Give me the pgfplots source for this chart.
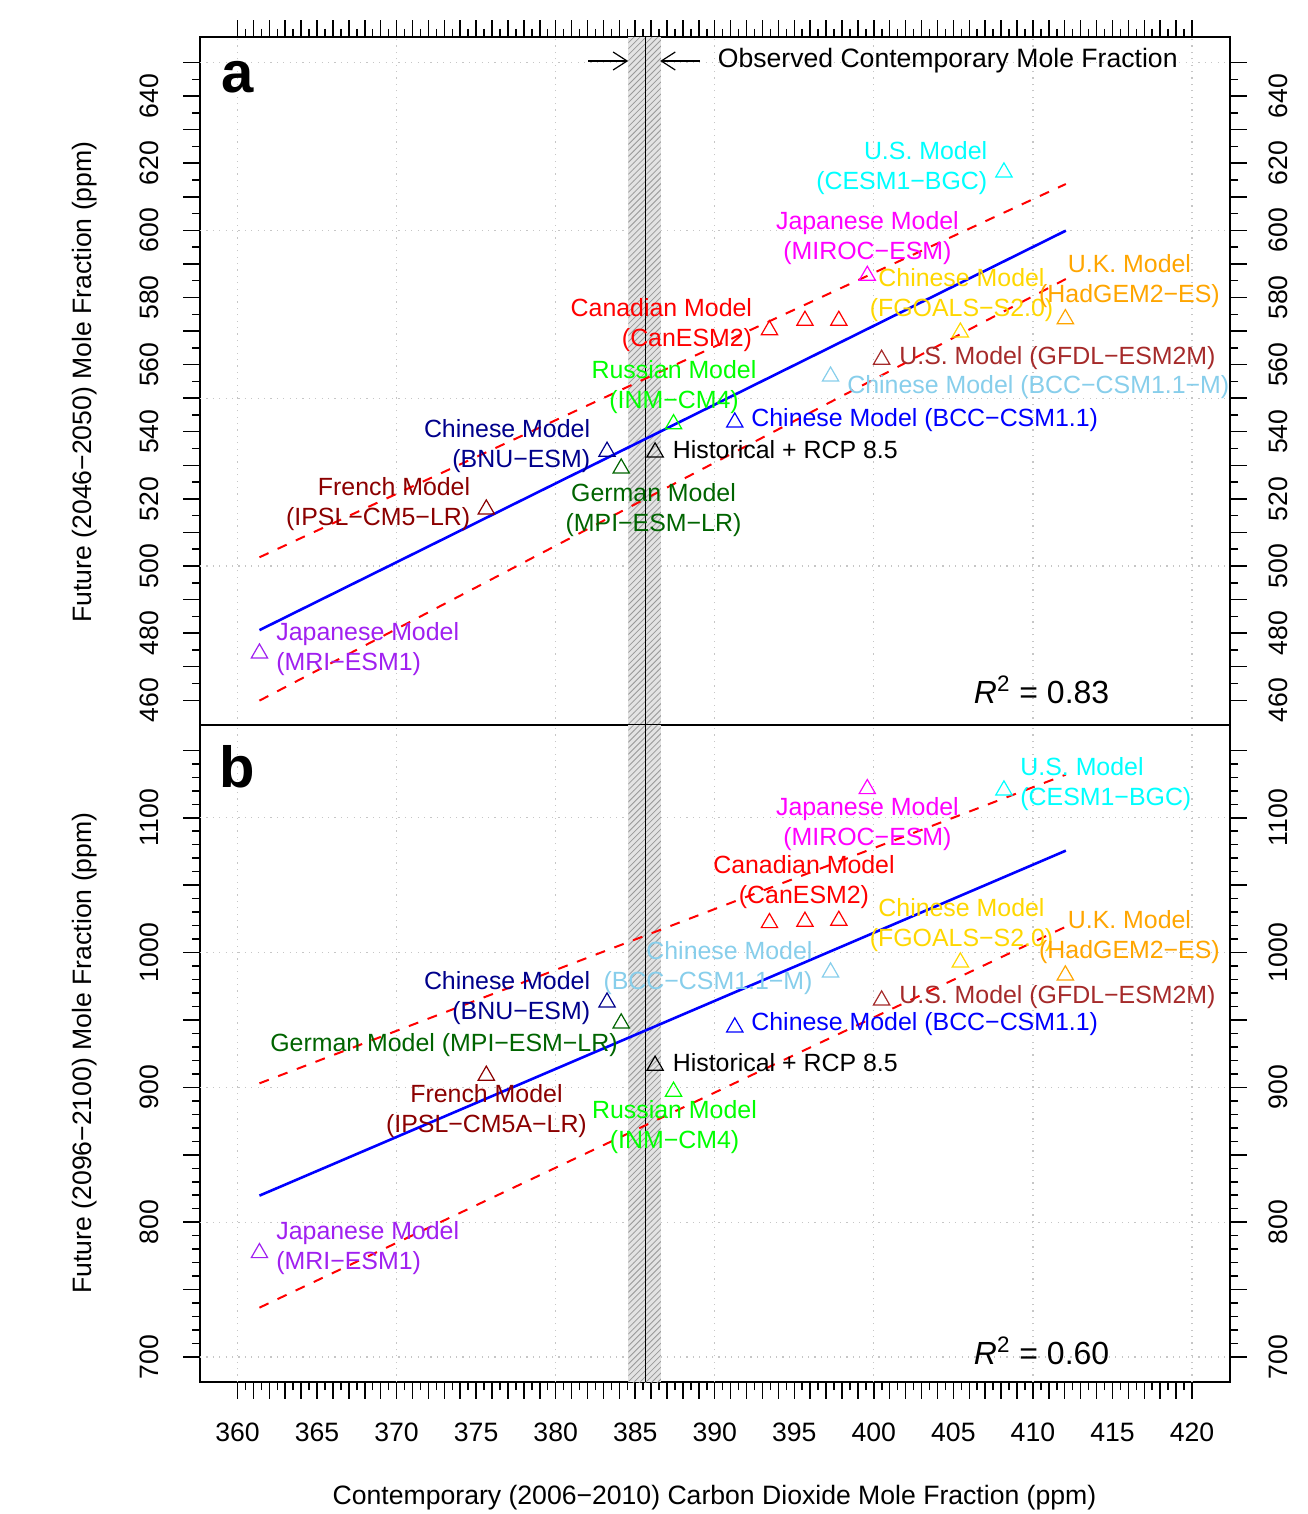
\documentclass[border=0pt]{standalone}
\usepackage{fontspec}
\setmainfont{Liberation Sans}
\usepackage{pgfplots}
\pgfplotsset{compat=1.18}
\usetikzlibrary{patterns,arrows.meta}

\definecolor{rcyan}{HTML}{00FFFF}
\definecolor{rmagenta}{HTML}{FF00FF}
\definecolor{rgold}{HTML}{FFD700}
\definecolor{rorange}{HTML}{FFA500}
\definecolor{rred}{HTML}{FF0000}
\definecolor{rbrown}{HTML}{A52A2A}
\definecolor{rskyblue}{HTML}{87CEEB}
\definecolor{rgreen}{HTML}{00FF00}
\definecolor{rblue}{HTML}{0000FF}
\definecolor{rnavy}{HTML}{00008B}
\definecolor{rdarkgreen}{HTML}{006400}
\definecolor{rdarkred}{HTML}{8B0000}
\definecolor{rpurple}{HTML}{A020F0}

\newcommand{\lbl}{\fontsize{13.3bp}{15bp}\selectfont}
\newcommand{\mlbl}{\fontsize{12.45bp}{15bp}\selectfont}
\newcommand{\rsq}{\fontsize{16bp}{18bp}\selectfont}
\newcommand{\pan}{\fontsize{29bp}{30bp}\selectfont\bfseries}

\tikzset{
  gridst/.style={gray!45, line width=0.6bp, dash pattern=on 0.6bp off 2.6bp},
  lab/.style={font=\mlbl, inner sep=0pt},
  ml/.style={font=\mlbl, inner sep=0pt, yshift=-1.3bp},
}

\pgfplotsset{
  rbase/.style={
    scale only axis, width=515bp,
    xmin=357.643, xmax=422.39,
    clip=false,
    axis line style={line width=0.75bp},
    every tick/.style={black, line width=0.75bp},
    tick align=outside,
    major tick length=8.3bp, minor tick length=4bp,
    xtick={360,361,...,420},
    minor xtick={360.5,361.5,...,419.5},
    ticklabel style={font=\lbl, inner sep=0pt},
    yticklabel pos=left,
    ytick pos=both,
    yticklabel style={rotate=90, anchor=south},
    yticklabel shift=12bp,
    /pgf/number format/assume math mode=true,
  },
  rright/.style={
    scale only axis, width=515bp,
    xmin=357.643, xmax=422.39,
    axis x line=none, axis y line*=right,
    y axis line style={draw=none},
    major tick length=0pt, minor tick length=0pt,
    yticklabel style={rotate=90, anchor=north, font=\lbl, inner sep=0pt},
    yticklabel shift=19bp,
    /pgf/number format/assume math mode=true,
  },
  dat/.style={only marks, mark=triangle, mark size=4.7bp, mark options={solid, line width=0.6bp}, color=#1},
  regl/.style={rblue, line width=1.3bp, no marks},
  ci/.style={rred, line width=1bp, dash pattern=on 5bp off 5bp, no marks},
}

\begin{document}
\begin{tikzpicture}
\useasboundingbox (0,0) rectangle (654bp,-757bp);

% ---------------- panel a ----------------
\begin{axis}[rbase, at={(100bp,-18.5bp)}, anchor=north west, height=344bp,
  ymin=452.64, ymax=657.59,
  xtick pos=right, xticklabels={},
  ytick={460,470,...,650}, minor y tick num=1,
  yticklabels={460,,480,,500,,520,,540,,560,,580,,600,,620,,640,{}},
]
% grid
\draw[gridst] (axis cs:360,452.64) -- (axis cs:360,657.59);
\draw[gridst] (axis cs:370,452.64) -- (axis cs:370,657.59);
\draw[gridst] (axis cs:380,452.64) -- (axis cs:380,657.59);
\draw[gridst] (axis cs:390,452.64) -- (axis cs:390,657.59);
\draw[gridst] (axis cs:400,452.64) -- (axis cs:400,657.59);
\draw[gridst] (axis cs:410,452.64) -- (axis cs:410,657.59);
\draw[gridst] (axis cs:420,452.64) -- (axis cs:420,657.59);
\draw[gridst] (axis cs:357.643,500) -- (axis cs:422.39,500);
\draw[gridst] (axis cs:357.643,550) -- (axis cs:422.39,550);
\draw[gridst] (axis cs:357.643,600) -- (axis cs:422.39,600);
\draw[gridst] (axis cs:357.643,650) -- (axis cs:422.39,650);
% observed band
\fill[gray!22] (axis cs:384.57,452.64) rectangle (axis cs:386.62,657.59);
\fill[pattern=north east lines, pattern color=gray!80] (axis cs:384.57,452.64) rectangle (axis cs:386.62,657.59);
\draw[line width=0.6bp] (axis cs:385.63,452.64) -- (axis cs:385.63,657.59);
\draw[line width=0.6bp, -{Straight Barb[length=7bp, width=9bp]}] (axis cs:382.05,650.44) -- (axis cs:384.56,650.44);
\draw[line width=0.6bp, -{Straight Barb[length=7bp, width=9bp]}] (axis cs:389.08,650.44) -- (axis cs:386.57,650.44);
% regression
\addplot[regl] coordinates {(361.38,480.9) (412.07,599.9)};
\addplot[ci] coordinates {(361.38,502.6) (412.07,613.8)};
\addplot[ci] coordinates {(361.38,459.9) (412.07,585.5)};
% models
\addplot[dat=rpurple] coordinates {(361.38,474.0)};
\addplot[dat=rdarkred] coordinates {(375.64,516.9)};
\addplot[dat=rnavy] coordinates {(383.23,534.1)};
\addplot[dat=rdarkgreen] coordinates {(384.12,529.1)};
\addplot[dat=black] coordinates {(386.25,533.9)};
\addplot[dat=rgreen] coordinates {(387.41,542.3)};
\addplot[dat=rblue] coordinates {(391.26,542.8)};
\addplot[dat=rred] coordinates {(393.44,570.3) (395.67,573.1) (397.80,573.1)};
\addplot[dat=rskyblue] coordinates {(397.28,556.5)};
\addplot[dat=rbrown] coordinates {(400.49,561.5)};
\addplot[dat=rmagenta] coordinates {(399.59,586.5)};
\addplot[dat=rgold] coordinates {(405.44,569.6)};
\addplot[dat=rorange] coordinates {(412.04,573.6)};
\addplot[dat=rcyan] coordinates {(408.18,617.3)};
% labels
\node[ml, text=rcyan, align=right, anchor=east] at (axis cs:407.15,619.46) {U.S. Model\\(CESM1−BGC)};
\node[ml, text=rmagenta, align=center] at (axis cs:399.6,598.46) {Japanese Model\\(MIROC−ESM)};
\node[ml, text=rgold, align=center] at (axis cs:405.51,581.48) {Chinese Model\\(FGOALS−S2.0)};
\node[ml, text=rorange, align=center] at (axis cs:416.07,585.65) {U.K. Model\\(HadGEM2−ES)};
\node[ml, text=rred, align=right, anchor=east] at (axis cs:392.37,572.69) {Canadian Model\\(CanESM2)};
\node[lab, text=rbrown, anchor=west] at (axis cs:401.58,561.97) {U.S. Model (GFDL−ESM2M)};
\node[lab, text=rskyblue, anchor=west] at (axis cs:398.31,553.33) {Chinese Model (BCC−CSM1.1−M)};
\node[ml, text=rgreen, align=center] at (axis cs:387.44,554.22) {Russian Model\\(INM−CM4)};
\node[lab, text=rblue, anchor=west] at (axis cs:392.28,543.5) {Chinese Model (BCC−CSM1.1)};
\node[ml, text=rnavy, align=right, anchor=east] at (axis cs:382.19,536.5) {Chinese Model\\(BNU−ESM)};
\node[lab, text=black, anchor=west] at (axis cs:387.34,534.56) {Historical + RCP 8.5};
\node[ml, text=rdarkgreen, align=center] at (axis cs:386.15,517.43) {German Model\\(MPI−ESM−LR)};
\node[ml, text=rdarkred, align=right, anchor=east] at (axis cs:374.65,519.37) {French Model\\(IPSL−CM5−LR)};
\node[ml, text=rpurple, align=left, anchor=west] at (axis cs:362.42,476.18) {Japanese Model\\(MRI−ESM1)};
\node[font=\lbl, inner sep=0pt, anchor=west] at (axis cs:390.17,650.44) {Observed Contemporary Mole Fraction};
\node[font=\pan, inner sep=0pt] at (axis cs:360,645.67) {a};
\node[font=\rsq, inner sep=0pt, anchor=west] at (axis cs:406.27,463.07) {\textit{R}\textsuperscript{2} = 0.83};
\end{axis}
\begin{axis}[rright, at={(100bp,-18.5bp)}, anchor=north west, height=344bp,
  ymin=452.64, ymax=657.59,
  ytick={460,470,...,650},
  yticklabels={460,,480,,500,,520,,540,,560,,580,,600,,620,,640,{}},
]
\end{axis}

% ---------------- panel b ----------------
\begin{axis}[rbase, at={(100bp,-362.5bp)}, anchor=north west, height=328.5bp,
  ymin=681.45, ymax=1168.8,
  xtick pos=left,
  xticklabels={360,,,,,365,,,,,370,,,,,375,,,,,380,,,,,385,,,,,390,,,,,395,,,,,400,,,,,405,,,,,410,,,,,415,,,,,420},
  xticklabel style={anchor=north}, xticklabel shift=12bp,
  ytick={700,750,...,1150}, minor y tick num=4,
  yticklabels={700,,800,,900,,1000,,1100,{}},
]
\draw[gridst] (axis cs:360,681.45) -- (axis cs:360,1168.8);
\draw[gridst] (axis cs:370,681.45) -- (axis cs:370,1168.8);
\draw[gridst] (axis cs:380,681.45) -- (axis cs:380,1168.8);
\draw[gridst] (axis cs:390,681.45) -- (axis cs:390,1168.8);
\draw[gridst] (axis cs:400,681.45) -- (axis cs:400,1168.8);
\draw[gridst] (axis cs:410,681.45) -- (axis cs:410,1168.8);
\draw[gridst] (axis cs:420,681.45) -- (axis cs:420,1168.8);
\draw[gridst] (axis cs:357.643,700) -- (axis cs:422.39,700);
\draw[gridst] (axis cs:357.643,800) -- (axis cs:422.39,800);
\draw[gridst] (axis cs:357.643,900) -- (axis cs:422.39,900);
\draw[gridst] (axis cs:357.643,1000) -- (axis cs:422.39,1000);
\draw[gridst] (axis cs:357.643,1100) -- (axis cs:422.39,1100);
\fill[gray!22] (axis cs:384.57,681.45) rectangle (axis cs:386.62,1168.8);
\fill[pattern=north east lines, pattern color=gray!80] (axis cs:384.57,681.45) rectangle (axis cs:386.62,1168.8);
\draw[line width=0.6bp] (axis cs:385.63,681.45) -- (axis cs:385.63,1168.8);
\addplot[regl] coordinates {(361.38,819.7) (412.07,1075.6)};
\addplot[ci] coordinates {(361.38,903.0) (412.07,1132.0)};
\addplot[ci] coordinates {(361.38,736.6) (412.07,1019.2)};
\addplot[dat=rpurple] coordinates {(361.38,777.2)};
\addplot[dat=rdarkred] coordinates {(375.64,908.8)};
\addplot[dat=rnavy] coordinates {(383.23,963.1)};
\addplot[dat=rdarkgreen] coordinates {(384.12,947.6)};
\addplot[dat=black] coordinates {(386.25,916.2)};
\addplot[dat=rgreen] coordinates {(387.41,896.9)};
\addplot[dat=rblue] coordinates {(391.26,944.6)};
\addplot[dat=rred] coordinates {(393.44,1022.0) (395.67,1023.0) (397.80,1023.7)};
\addplot[dat=rskyblue] coordinates {(397.28,985.4)};
\addplot[dat=rbrown] coordinates {(400.49,964.6)};
\addplot[dat=rmagenta] coordinates {(399.59,1121.4)};
\addplot[dat=rgold] coordinates {(405.44,992.8)};
\addplot[dat=rorange] coordinates {(412.04,983.2)};
\addplot[dat=rcyan] coordinates {(408.18,1120.4)};
\node[ml, text=rcyan, align=left, anchor=west] at (axis cs:409.19,1126.6) {U.S. Model\\(CESM1−BGC)};
\node[ml, text=rmagenta, align=center] at (axis cs:399.6,1096.9) {Japanese Model\\(MIROC−ESM)};
\node[ml, text=rred, align=center] at (axis cs:395.61,1053.9) {Canadian Model\\(CanESM2)};
\node[ml, text=rgold, align=center] at (axis cs:405.51,1022.7) {Chinese Model\\(FGOALS−S2.0)};
\node[ml, text=rorange, align=center] at (axis cs:416.07,1013.1) {U.K. Model\\(HadGEM2−ES)};
\node[ml, text=rskyblue, align=right, anchor=east] at (axis cs:396.17,990.8) {Chinese Model\\(BCC−CSM1.1−M)};
\node[ml, text=rnavy, align=right, anchor=east] at (axis cs:382.19,968.5) {Chinese Model\\(BNU−ESM)};
\node[lab, text=rbrown, anchor=west] at (axis cs:401.58,967.1) {U.S. Model (GFDL−ESM2M)};
\node[lab, text=rblue, anchor=west] at (axis cs:392.28,947.0) {Chinese Model (BCC−CSM1.1)};
\node[lab, text=rdarkgreen, anchor=east] at (axis cs:383.92,931.5) {German Model (MPI−ESM−LR)};
\node[lab, text=black, anchor=west] at (axis cs:387.34,918.1) {Historical + RCP 8.5};
\node[ml, text=rdarkred, align=center] at (axis cs:375.65,884.0) {French Model\\(IPSL−CM5A−LR)};
\node[ml, text=rgreen, align=center] at (axis cs:387.47,872.8) {Russian Model\\(INM−CM4)};
\node[ml, text=rpurple, align=left, anchor=west] at (axis cs:362.42,783.1) {Japanese Model\\(MRI−ESM1)};
\node[font=\pan, inner sep=0pt] at (axis cs:360,1137.7) {b};
\node[font=\rsq, inner sep=0pt, anchor=west] at (axis cs:406.27,704.5) {\textit{R}\textsuperscript{2} = 0.60};
\end{axis}
\begin{axis}[rright, at={(100bp,-362.5bp)}, anchor=north west, height=328.5bp,
  ymin=681.45, ymax=1168.8,
  ytick={700,750,...,1150},
  yticklabels={700,,800,,900,,1000,,1100,{}},
]
\end{axis}

% axis titles
\node[font=\lbl, rotate=90] at (42.5bp,-191bp) {Future (2046−2050) Mole Fraction (ppm)};
\node[font=\lbl, rotate=90] at (42.5bp,-526.5bp) {Future (2096−2100) Mole Fraction (ppm)};
\node[font=\lbl] at (357.25bp,-749bp) {Contemporary (2006−2010) Carbon Dioxide Mole Fraction (ppm)};
\end{tikzpicture}
\end{document}
